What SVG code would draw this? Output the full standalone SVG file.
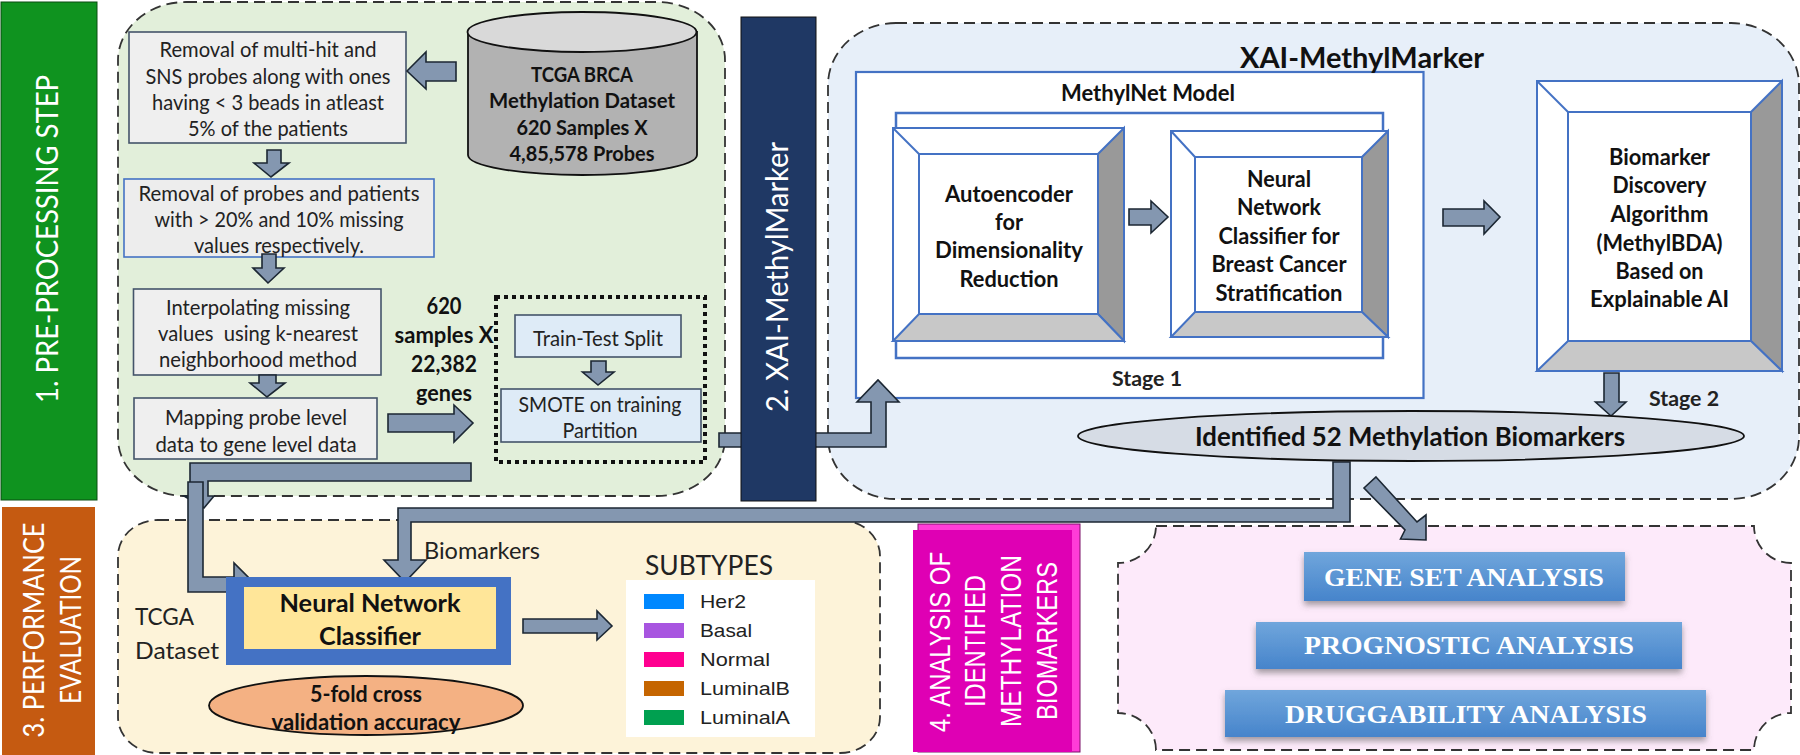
<svg xmlns="http://www.w3.org/2000/svg" width="1800" height="755" viewBox="0 0 1800 755">
<style>
text{font-family:"Lato","Liberation Sans",sans-serif;fill:#222;text-anchor:middle;dominant-baseline:central;lengthAdjust:spacingAndGlyphs}
.t{font-size:21px}
.b{font-size:22px;font-weight:700;fill:#111}
.c{font-size:21px;font-weight:700;fill:#111}
.w{fill:#fff}
.ar{fill:#8497b0;stroke:#1c2733;stroke-width:1.6;stroke-linejoin:miter}
.dash{stroke:#333;stroke-width:1.8;stroke-dasharray:11 6}
.grey{fill:#efefef;stroke:#44546a;stroke-width:1.6}
.lb{fill:#deebf7;stroke:#44546a;stroke-width:1.6}
.bl{stroke:#4472c4;stroke-width:2}
.s{font-family:"Liberation Serif",serif;font-weight:700;fill:#fff;font-size:26px}
.a{font-family:"Liberation Sans",sans-serif;font-size:19px;text-anchor:start}
.m{font-family:"Liberation Sans",sans-serif;font-size:30px;fill:#fff}
</style>
<defs>
<linearGradient id="btn" x1="0" y1="0" x2="0" y2="1"><stop offset="0" stop-color="#70a6dc"/><stop offset="1" stop-color="#4684cb"/></linearGradient>
<filter id="sh" x="-5%" y="-15%" width="110%" height="140%"><feDropShadow dx="0" dy="4" stdDeviation="3" flood-color="#555" flood-opacity=".55"/></filter>
</defs>

<g id="step1"><rect x="1" y="2" width="96" height="498" fill="#0f931f" stroke="#0a4d12"/>
<text class="w" style="font-size:30px" transform="translate(46,239) rotate(-90)" textLength="328" lengthAdjust="spacingAndGlyphs">1. PRE-PROCESSING STEP</text></g>
<g id="step3"><rect x="2" y="507" width="93" height="248" fill="#c55a11"/>
<text class="w" style="font-size:28px" transform="translate(33,630) rotate(-90)" textLength="215" lengthAdjust="spacingAndGlyphs">3. PERFORMANCE</text>
<text class="w" style="font-size:28px" transform="translate(70,630) rotate(-90)" textLength="148" lengthAdjust="spacingAndGlyphs">EVALUATION</text></g>

<g id="preprocess-panel"><rect x="118" y="2" width="607" height="494" rx="68" ry="58" fill="#e2efda" class="dash"/></g>
<g id="performance-panel"><rect x="118" y="520" width="762" height="233" rx="40" ry="36" fill="#fdf3d9" class="dash"/></g>
<g id="xai-panel"><rect x="828" y="23" width="971" height="476" rx="68" ry="62" fill="#e7eff9" class="dash"/></g>
<g id="analysis-panel"><path d="M1156,526H1754A37,37 0 0 0 1791,563V713A37,37 0 0 0 1754,750H1156A38,37 0 0 0 1118,713V563A38,37 0 0 0 1156,526Z" fill="#fdeafa" class="dash"/></g>

<g id="n-filter"><rect x="129" y="32" width="277" height="111" class="grey"/>
<text class="t" x="268" y="48" textLength="217" lengthAdjust="spacingAndGlyphs">Removal of multi-hit and</text><text class="t" x="268" y="75" textLength="245" lengthAdjust="spacingAndGlyphs">SNS probes along with ones</text><text class="t" x="268" y="101" textLength="232" lengthAdjust="spacingAndGlyphs">having &lt; 3 beads in atleast</text><text class="t" x="268" y="127" textLength="160" lengthAdjust="spacingAndGlyphs">5% of the patients</text></g>
<g id="n-dataset"><path d="M468,32V155C468,166 519,175 582,175S697,166 697,155V32Z" fill="#b2b2b2" stroke="#111" stroke-width="1.8"/><ellipse cx="582" cy="32" rx="114.500" ry="20" fill="#d9d9d9" stroke="#111" stroke-width="1.8"/>
<text class="c" x="582" y="73" textLength="102" lengthAdjust="spacingAndGlyphs">TCGA BRCA</text><text class="c" x="582" y="99" textLength="186" lengthAdjust="spacingAndGlyphs">Methylation Dataset</text><text class="c" x="582" y="126" textLength="131" lengthAdjust="spacingAndGlyphs">620 Samples X</text><text class="c" x="582" y="152" textLength="145" lengthAdjust="spacingAndGlyphs">4,85,578 Probes</text></g>
<g id="n-missing"><rect x="124" y="179" width="310" height="78" fill="#ededed" stroke="#4472c4" stroke-width="1.6"/>
<text class="t" x="279" y="192" textLength="281" lengthAdjust="spacingAndGlyphs">Removal of probes and patients</text><text class="t" x="279" y="218" textLength="249" lengthAdjust="spacingAndGlyphs">with &gt; 20% and 10% missing</text><text class="t" x="279" y="244" textLength="170" lengthAdjust="spacingAndGlyphs">values respectively.</text></g>
<g id="n-interp"><rect x="133.500" y="289" width="247.500" height="86" class="grey"/>
<text class="t" x="258" y="306" textLength="184" lengthAdjust="spacingAndGlyphs">Interpolating missing</text><text class="t" x="258" y="332" textLength="200" lengthAdjust="spacingAndGlyphs" xml:space="preserve">values  using k-nearest</text><text class="t" x="258" y="358" textLength="198" lengthAdjust="spacingAndGlyphs">neighborhood method</text></g>
<g id="n-mapping"><rect x="134" y="398" width="243" height="61" class="grey"/>
<text class="t" x="256" y="416" textLength="182" lengthAdjust="spacingAndGlyphs">Mapping probe level</text><text class="t" x="256" y="443" textLength="201" lengthAdjust="spacingAndGlyphs">data to gene level data</text></g>
<g id="n-genes"><text class="b" x="444" y="305" textLength="35" lengthAdjust="spacingAndGlyphs">620</text><text class="b" x="444" y="334" textLength="99" lengthAdjust="spacingAndGlyphs">samples X</text><text class="b" x="444" y="363" textLength="66" lengthAdjust="spacingAndGlyphs">22,382</text><text class="b" x="444" y="392" textLength="56" lengthAdjust="spacingAndGlyphs">genes</text></g>
<g id="n-split"><rect x="496" y="297" width="209" height="165" fill="none" stroke="#111" stroke-width="4" stroke-dasharray="4 4"/>
<rect x="515" y="315" width="166" height="42" class="lb"/><text class="t" x="598" y="337" textLength="130" lengthAdjust="spacingAndGlyphs">Train-Test Split</text>
<rect x="501" y="389" width="200" height="53" class="lb"/><text class="t" x="600" y="403" textLength="163" lengthAdjust="spacingAndGlyphs">SMOTE on training</text><text class="t" x="600" y="429" textLength="75" lengthAdjust="spacingAndGlyphs">Partition</text></g>

<g id="n-methylnet"><rect x="856" y="72" width="567.500" height="326" fill="#fff" stroke="#4472c4" stroke-width="2.200"/>
<text class="b" x="1148" y="92" textLength="174" lengthAdjust="spacingAndGlyphs">MethylNet Model</text>
<rect x="896" y="113" width="487" height="245" fill="#fff" stroke="#4472c4" stroke-width="2.500"/>
<text class="t" x="1147" y="377" style="font-weight:700" textLength="70" lengthAdjust="spacingAndGlyphs">Stage 1</text></g>
<g id="n-autoencoder"><rect x="893" y="128" width="231" height="213" fill="#fff" class="bl"/>
<path d="M1124,128L1098,154V314L1124,341Z" fill="#999" class="bl"/><path d="M893,341L919,314H1098L1124,341Z" fill="#c8c8c8" class="bl"/><path d="M893,128L919,154" fill="none" class="bl"/><rect x="919" y="154" width="179" height="160" fill="#fff" class="bl"/>
<text class="b" x="1009" y="193" textLength="128" lengthAdjust="spacingAndGlyphs">Autoencoder</text><text class="b" x="1009" y="221" textLength="28" lengthAdjust="spacingAndGlyphs">for</text><text class="b" x="1009" y="249" textLength="148" lengthAdjust="spacingAndGlyphs">Dimensionality</text><text class="b" x="1009" y="278" textLength="99" lengthAdjust="spacingAndGlyphs">Reduction</text></g>
<g id="n-classifier"><rect x="1171" y="131" width="217" height="206" fill="#fff" class="bl"/>
<path d="M1388,131L1362,157V312L1388,337Z" fill="#999" class="bl"/><path d="M1171,337L1195,312H1362L1388,337Z" fill="#c8c8c8" class="bl"/><path d="M1171,131L1195,157" fill="none" class="bl"/><rect x="1195" y="157" width="167" height="155" fill="#fff" class="bl"/>
<text class="b" x="1279" y="178" textLength="64" lengthAdjust="spacingAndGlyphs">Neural</text><text class="b" x="1279" y="206" textLength="84" lengthAdjust="spacingAndGlyphs">Network</text><text class="b" x="1279" y="235" textLength="121" lengthAdjust="spacingAndGlyphs">Classifier for</text><text class="b" x="1279" y="263" textLength="135" lengthAdjust="spacingAndGlyphs">Breast Cancer</text><text class="b" x="1279" y="292" textLength="127" lengthAdjust="spacingAndGlyphs">Stratification</text></g>
<g id="n-bda"><rect x="1537" y="81" width="245" height="290" fill="#fff" class="bl"/>
<path d="M1782,81L1751,112V341L1782,371Z" fill="#999" class="bl"/><path d="M1537,371L1568,341H1751L1782,371Z" fill="#c8c8c8" class="bl"/><path d="M1537,81L1568,112" fill="none" class="bl"/><rect x="1568" y="112" width="183" height="229" fill="#fff" class="bl"/>
<text class="b" x="1659.500" y="156" textLength="101" lengthAdjust="spacingAndGlyphs">Biomarker</text><text class="b" x="1659.500" y="184" textLength="94" lengthAdjust="spacingAndGlyphs">Discovery</text><text class="b" x="1659.500" y="213" textLength="98" lengthAdjust="spacingAndGlyphs">Algorithm</text><text class="b" x="1659.500" y="242" textLength="126" lengthAdjust="spacingAndGlyphs">(MethylBDA)</text><text class="b" x="1659.500" y="270" textLength="88" lengthAdjust="spacingAndGlyphs">Based on</text><text class="b" x="1659.500" y="298" textLength="139" lengthAdjust="spacingAndGlyphs">Explainable AI</text></g>
<g id="n-title"><text class="b" style="font-size:29px" x="1362" y="56" textLength="244" lengthAdjust="spacingAndGlyphs">XAI-MethylMarker</text></g>
<g id="n-stage2"><text class="t" x="1684" y="397" style="font-weight:700" textLength="70" lengthAdjust="spacingAndGlyphs">Stage 2</text></g>

<g id="connectors">
<path class="ar" d="M407,71L426,52V62H456V81H426V89Z"/>
<path class="ar" d="M267,150H281V163H289L271,177L254,163H267Z"/>
<path class="ar" d="M262,254H276V268H284L268,283L253,268H262Z"/>
<path class="ar" d="M259,375H276V383H285L267,397L250,383H259Z"/>
<path class="ar" d="M388,414H454V405L473,423L454,442V432H388Z"/>
<path class="ar" d="M591,361H606V372H614L598,385L582.500,372H591Z"/>
<path class="ar" d="M719,433H871V402H857L878,380L899,402H886V447H719Z"/>
<path class="ar" d="M1129,209H1151V201L1168,217L1151,233V225H1129Z"/>
<path class="ar" d="M1443,209H1484V201L1500,217L1484,234V226H1443Z"/>
<path class="ar" d="M1604,373H1619V402H1626L1611,416L1595.500,402H1604Z"/>
<path class="ar" d="M471,463H190V496H184L204,508L214,496H208V481H471Z"/>
<path class="ar" d="M188,482H203V577H234V563L255,584L234,606V592H188Z"/>
<path class="ar" d="M1333,462H1350V522H411V560H426L405,582L384,560H398V508H1333Z"/>
<path class="ar" d="M1376,477L1417,522L1426,515V540L1400.500,539L1405,530L1364,488Z"/>
<path class="ar" d="M523,619H597V611L612,626L597,640V633H523Z"/>
</g>

<g id="n-xai-bar"><rect x="741" y="17" width="75" height="484" fill="#1f3864" stroke="#111"/>
<text class="w" style="font-size:30px" transform="translate(776,277) rotate(-90)" textLength="270" lengthAdjust="spacingAndGlyphs">2. XAI-MethylMarker</text></g>
<g id="n-biomarkers"><ellipse cx="1411" cy="436" rx="333" ry="25" fill="#d6dce5" stroke="#111" stroke-width="1.800"/>
<text class="b" style="font-size:26px" x="1410" y="436" textLength="430" lengthAdjust="spacingAndGlyphs">Identified 52 Methylation Biomarkers</text></g>

<g id="n-nn"><rect x="226" y="577" width="285" height="88" fill="#4472c4"/><rect x="244" y="587" width="252" height="62" fill="#ffe699"/>
<text class="b" style="font-size:25px" x="370" y="602" textLength="181" lengthAdjust="spacingAndGlyphs">Neural Network</text><text class="b" style="font-size:25px" x="370" y="635" textLength="102" lengthAdjust="spacingAndGlyphs">Classifier</text></g>
<g id="n-tcga"><text style="font-size:24px;text-anchor:start" x="135" y="615" textLength="59" lengthAdjust="spacingAndGlyphs">TCGA</text><text style="font-size:24px;text-anchor:start" x="135" y="649" textLength="84" lengthAdjust="spacingAndGlyphs">Dataset</text></g>
<g id="n-biolabel"><text style="font-size:24px;text-anchor:start" x="424" y="549" textLength="116" lengthAdjust="spacingAndGlyphs">Biomarkers</text></g>
<g id="n-cv"><ellipse cx="366" cy="705.500" rx="157" ry="29.500" fill="#f4b183" stroke="#111" stroke-width="1.800"/>
<text class="b" x="366" y="693" textLength="112" lengthAdjust="spacingAndGlyphs">5-fold cross</text><text class="b" x="366" y="721" textLength="189" lengthAdjust="spacingAndGlyphs">validation accuracy</text></g>
<g id="n-subtypes"><text style="font-size:27px" x="709" y="564" textLength="128" lengthAdjust="spacingAndGlyphs">SUBTYPES</text><rect x="626" y="580" width="189" height="157" fill="#fff"/>
<rect x="644" y="594" width="40" height="15" fill="#0088ff"/><text class="a" x="700" y="601" textLength="46" lengthAdjust="spacingAndGlyphs">Her2</text>
<rect x="644" y="623" width="40" height="15" fill="#a855e0"/><text class="a" x="700" y="630" textLength="52" lengthAdjust="spacingAndGlyphs">Basal</text>
<rect x="644" y="652" width="40" height="15" fill="#ff0090"/><text class="a" x="700" y="659" textLength="70" lengthAdjust="spacingAndGlyphs">Normal</text>
<rect x="644" y="681" width="40" height="15" fill="#c56500"/><text class="a" x="700" y="688" textLength="90" lengthAdjust="spacingAndGlyphs">LuminalB</text>
<rect x="644" y="710" width="40" height="15" fill="#00a050"/><text class="a" x="700" y="717" textLength="90" lengthAdjust="spacingAndGlyphs">LuminalA</text></g>

<g id="step4"><rect x="918" y="524" width="162" height="228" fill="#ff3cd8" stroke="#7a1068" stroke-width="1"/><rect x="913" y="530" width="159" height="222" fill="#df00b4"/>
<text class="m" transform="translate(939,642) rotate(-90)" textLength="180" lengthAdjust="spacingAndGlyphs">4. ANALYSIS OF</text>
<text class="m" transform="translate(974,641) rotate(-90)" textLength="132" lengthAdjust="spacingAndGlyphs">IDENTIFIED</text>
<text class="m" transform="translate(1010,641) rotate(-90)" textLength="172" lengthAdjust="spacingAndGlyphs">METHYLATION</text>
<text class="m" transform="translate(1046,641) rotate(-90)" textLength="158" lengthAdjust="spacingAndGlyphs">BIOMARKERS</text></g>

<g id="n-gene"><rect x="1304" y="552" width="321" height="49" fill="url(#btn)" filter="url(#sh)"/><text class="s" x="1464" y="577" textLength="280" lengthAdjust="spacingAndGlyphs">GENE SET ANALYSIS</text></g>
<g id="n-prog"><rect x="1256" y="622" width="426" height="47" fill="url(#btn)" filter="url(#sh)"/><text class="s" x="1469" y="645" textLength="330" lengthAdjust="spacingAndGlyphs">PROGNOSTIC ANALYSIS</text></g>
<g id="n-drug"><rect x="1225" y="690" width="481" height="47" fill="url(#btn)" filter="url(#sh)"/><text class="s" x="1466" y="714" textLength="362" lengthAdjust="spacingAndGlyphs">DRUGGABILITY ANALYSIS</text></g>
</svg>
